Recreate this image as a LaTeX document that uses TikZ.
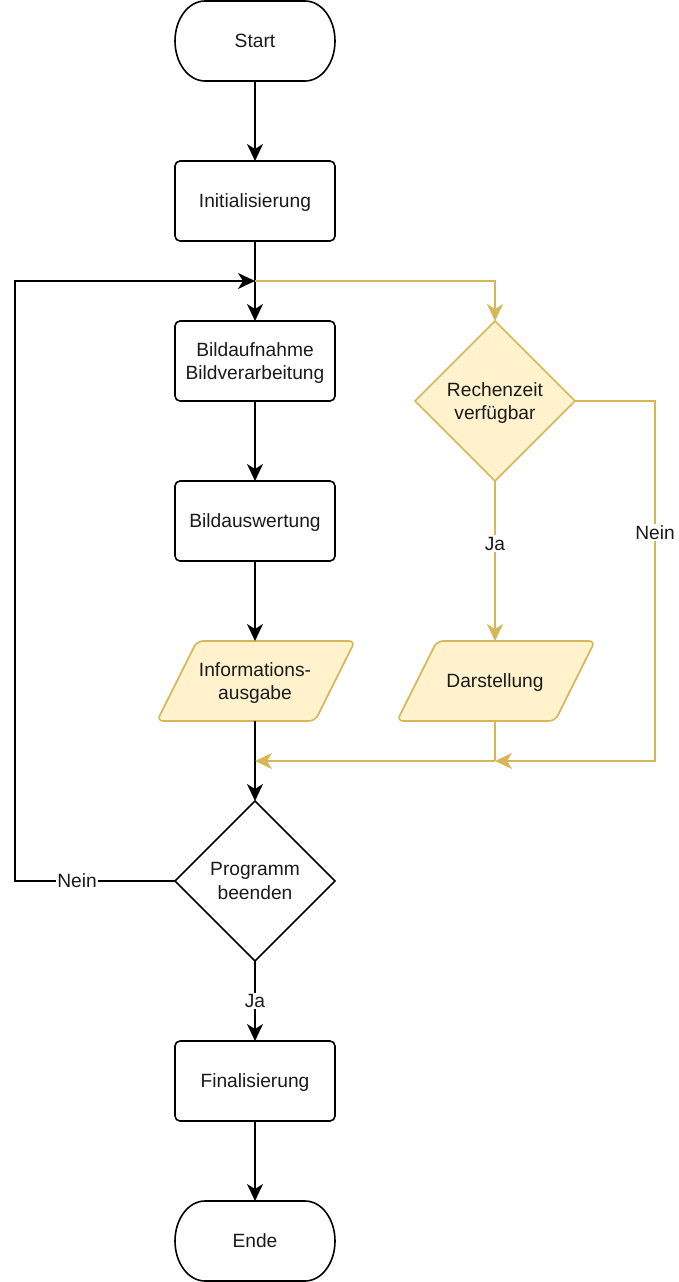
\documentclass[tikz,border=0pt]{standalone}
\usepackage{fontspec}
\setmainfont{Liberation Sans}
\usetikzlibrary{arrows.meta,shapes.geometric,backgrounds}
\definecolor{yfill}{HTML}{FFF2CC}
\definecolor{ystroke}{HTML}{D6B656}
\definecolor{txt}{HTML}{1A1A1A}
\begin{document}
\begin{tikzpicture}[x=1pt,y=-1pt,
  every node/.style={font=\fontsize{19.2}{23.5}\selectfont,text=txt,align=center,text depth=0pt},
  ln/.style={line width=1.6pt,draw=black},
  arr/.style={ln,-{Stealth[length=17pt,width=16pt,inset=5pt]}},
  yln/.style={line width=1.6pt,draw=ystroke},
  yarr/.style={yln,-{Stealth[length=17pt,width=16pt,inset=5pt]}},
  proc/.style={draw=black,line width=1.6pt,rounded corners=5pt,minimum width=160pt,minimum height=80pt,inner sep=0pt,outer sep=0pt},
  box/.style={minimum width=160pt,minimum height=80pt,inner sep=0pt,outer sep=0pt},
  dec/.style={diamond,aspect=1,draw=black,line width=1.6pt,minimum width=160pt,minimum height=160pt,inner sep=0pt,outer sep=0pt},
  decy/.style={dec,draw=ystroke,fill=yfill},
  lab/.style={fill=white,inner sep=1.5pt},
  termline/.style={line width=1.6pt,draw=black},
  ioline/.style={line width=1.6pt,draw=ystroke,fill=yfill,rounded corners=6pt}
]
\useasboundingbox (0,0) rectangle (678,1282);

% nodes
\node[box] (start) at (255,41) {Start};
\node[proc] (init) at (255,201) {Initialisierung};
\coordinate (j1) at (255,281);
\node[proc] (bild) at (255,361) {Bildaufnahme\\Bildverarbeitung};
\node[proc] (ausw) at (255,521) {Bildauswertung};
\node[box] (info) at (255,681) {Informations-\\ausgabe};
\coordinate (j2) at (255,761);
\node[dec] (prog) at (255,881) {Programm\\beenden};
\node[proc] (fin) at (255,1081) {Finalisierung};
\node[box] (ende) at (255,1241) {Ende};
\node[decy] (rech) at (495,401) {Rechenzeit\\verfügbar};
\node[box] (dar) at (495,681) {Darstellung};
\coordinate (j3) at (495,761);
\coordinate (c1) at (15,881);
\coordinate (c2) at (15,281);
\coordinate (c3) at (655,401);
\coordinate (c4) at (655,761);

% shapes drawn around nodes
\begin{scope}[on background layer]
\foreach \t in {start,ende}{
  \draw[termline] ([xshift=30pt]\t.north west) -- ([xshift=-30pt]\t.north east)
    arc[start angle=90,end angle=-90,x radius=30pt,y radius=40pt]
    -- ([xshift=30pt]\t.south west)
    arc[start angle=270,end angle=90,x radius=30pt,y radius=40pt] -- cycle;
}
\foreach \t in {info,dar}{
  \path[ioline] ([xshift=-58pt]\t.north) -- ([xshift=100pt]\t.north)
    -- ([xshift=60pt]\t.south) -- ([xshift=-98pt]\t.south) -- cycle;
}
\end{scope}

% connectors
\draw[arr] (start) -- (init);
\draw[ln] (init) -- (j1);
\draw[arr] (j1) -- (bild);
\draw[arr] (bild) -- (ausw);
\draw[arr] (ausw) -- (info);
\draw[arr] (info) -- (prog);
\draw[arr] (prog.west) -- node[lab,pos=0.6125]{Nein} (c1) -- (c2) -- (j1);
\draw[arr] (prog) -- node[lab]{Ja} (fin);
\draw[arr] (fin) -- (ende);
\draw[yarr] (j1) -| (rech.north);
\draw[yarr] (rech) -- node[lab,pos=0.39]{Ja} (dar);
\draw[yln] (dar) -- (j3);
\draw[yarr] (j3) -- (j2);
\draw[yarr] (rech.east) -- (c3) -- node[lab,pos=0.364]{Nein} (c4) -- (j3);
\end{tikzpicture}
\end{document}
